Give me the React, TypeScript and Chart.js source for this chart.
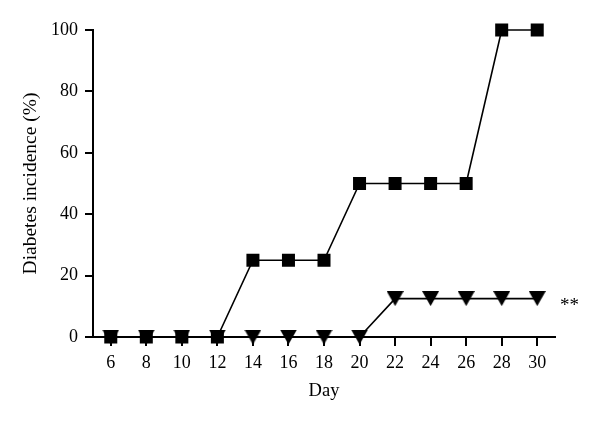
import React, { useEffect, useRef } from "react";
import { Chart, registerables } from "chart.js";

Chart.register(...registerables);

const days = [6, 8, 10, 12, 14, 16, 18, 20, 22, 24, 26, 28, 30];
const squareSeries = [0, 0, 0, 0, 25, 25, 25, 50, 50, 50, 50, 100, 100];
const triangleSeries = [0, 0, 0, 0, 0, 0, 0, 0, 12.5, 12.5, 12.5, 12.5, 12.5];
const yTicks = [0, 20, 40, 60, 80, 100];
const xTitle = "Day";
const yTitle = "Diabetes incidence (%)";
const significance = "**";

const FONT = "'Liberation Serif', 'Times New Roman', serif";

function makeDownTriangle(): HTMLCanvasElement {
  const w = 17;
  const h = 15;
  const c = document.createElement("canvas");
  c.width = w;
  c.height = h;
  const ctx = c.getContext("2d")!;
  ctx.fillStyle = "#000";
  ctx.beginPath();
  ctx.moveTo(0, 0);
  ctx.lineTo(w, 0);
  ctx.lineTo(w / 2, h);
  ctx.closePath();
  ctx.fill();
  return c;
}

export default function App() {
  const ref = useRef<HTMLCanvasElement | null>(null);

  useEffect(() => {
    document.body.style.margin = "0";
    const canvas = ref.current!;
    const tri = makeDownTriangle();

    const starPlugin = {
      id: "stars",
      afterDatasetsDraw(chart: any) {
        const ctx = chart.ctx;
        const x = chart.scales.x.right + 5;
        const y = chart.scales.y.getPixelForValue(triangleSeries[triangleSeries.length - 1]);
        ctx.save();
        ctx.fillStyle = "#000";
        ctx.font = `19px ${FONT}`;
        ctx.textAlign = "left";
        ctx.textBaseline = "middle";
        ctx.fillText(significance, x, y + 7);
        ctx.restore();
      },
    };

    const chart = new Chart(canvas, {
      type: "line",
      data: {
        labels: days,
        datasets: [
          {
            label: "Square",
            data: days.map((d, i) => ({ x: d, y: squareSeries[i] })),
            borderColor: "#000",
            backgroundColor: "#000",
            borderWidth: 1.6,
            pointStyle: "rect",
            pointRadius: 9.2,
            pointBorderWidth: 0,
            pointBackgroundColor: "#000",
            clip: false,
            tension: 0,
          } as any,
          {
            label: "Triangle",
            data: days.map((d, i) => ({ x: d, y: triangleSeries[i] })),
            borderColor: "#000",
            backgroundColor: "#000",
            borderWidth: 1.6,
            pointStyle: tri,
            pointRadius: 9,
            clip: false,
            tension: 0,
          } as any,
        ],
      },
      options: {
        responsive: false,
        animation: false,
        layout: { padding: { top: 30, right: 45, left: 0, bottom: 0 } },
        plugins: {
          legend: { display: false },
          tooltip: { enabled: false },
        },
        scales: {
          x: {
            type: "linear",
            min: 5,
            max: 31,
            afterBuildTicks(scale: any) {
              scale.ticks = days.map((v) => ({ value: v }));
            },
            afterFit(scale: any) {
              scale.height = 87;
            },
            grid: {
              drawOnChartArea: false,
              drawTicks: true,
              tickLength: 9,
              color: "#000",
              lineWidth: 2,
            },
            border: { display: true, color: "#000", width: 2 },
            ticks: {
              color: "#000",
              font: { family: FONT, size: 18 },
              padding: 6,
              maxRotation: 0,
              autoSkip: false,
            },
            title: {
              display: true,
              text: xTitle,
              color: "#000",
              font: { family: FONT, size: 18.5 },
              padding: { top: 0, bottom: 22 },
            },
          },
          y: {
            type: "linear",
            min: 0,
            max: 100,
            afterBuildTicks(scale: any) {
              scale.ticks = yTicks.map((v) => ({ value: v }));
            },
            afterFit(scale: any) {
              scale.width = 93;
            },
            grid: {
              drawOnChartArea: false,
              drawTicks: true,
              tickLength: 8,
              color: "#000",
              lineWidth: 2,
            },
            border: { display: true, color: "#000", width: 2 },
            ticks: {
              color: "#000",
              font: { family: FONT, size: 18 },
              padding: 7,
            },
            title: {
              display: true,
              text: yTitle,
              color: "#000",
              font: { family: FONT, size: 19.5 },
              padding: { top: 19, bottom: 0 },
            },
          },
        },
      },
      plugins: [starPlugin],
    } as any);

    return () => chart.destroy();
  }, []);

  return (
    <canvas
      ref={ref}
      width={600}
      height={424}
      style={{ display: "block", width: 600, height: 424 }}
    />
  );
}
